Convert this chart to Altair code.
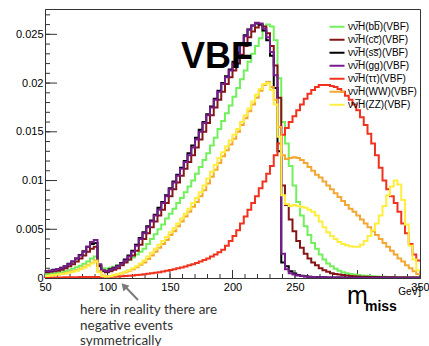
import altair as alt
import pandas as pd

# bin edges: 100 bins of 3 GeV from 50 to 350
edges = [50 + 3 * i for i in range(100)]

labels = ["νν̅H(bb̅)(VBF)", "νν̅H(cc̅)(VBF)", "νν̅H(ss̅)(VBF)", "νν̅H(gg)(VBF)",
          "νν̅H(ττ)(VBF)", "νν̅H(WW)(VBF)", "νν̅H(ZZ)(VBF)"]
colors = ["#72f05c", "#861616", "#000000", "#771c8c", "#f0321e", "#f4a834", "#ffee40"]

# values in units of 1e-3
bb = [0.4,0.45,0.5,0.55,0.6,0.7,0.8,0.95,1.1,1.25,1.45,1.7,2.0,2.2,
      1.3,1.0,0.95,1.05,1.15,1.3,1.45,1.65,1.85,2.1,2.4,2.7,
      3.0,3.5,4.0,4.5,5.0,5.5,6.1,6.6,7.1,7.7,8.2,8.8,9.4,10.0,10.7,11.4,12.1,12.8,13.6,14.4,
      15.3,16.1,16.9,17.7,18.6,19.5,20.4,21.3,22.2,23.0,23.8,24.6,25.4,26.0,
      25.8,24.4,20.5,16.0,13.8,11.5,9.5,7.8,6.4,5.3,4.4,3.6,3.0,2.4,1.9,1.5,1.2,0.95,0.75,0.6,
      0.5,0.4,0.35,0.3,0.25,0.22,0.2,0.18,0.15,0.13,0.12,0.1,0.1,0.09,0.08,0.07,0.06,0.06,0.05,0.05]
cc = [0.6,0.65,0.7,0.75,0.85,1.0,1.2,1.4,1.7,2.0,2.3,2.7,3.0,3.2,
      1.2,0.7,0.6,0.7,0.85,1.0,1.3,1.6,1.9,2.3,2.8,3.4,
      4.0,4.6,5.2,5.8,6.4,7.0,7.7,8.4,9.1,9.8,10.5,11.2,11.9,12.6,13.4,14.2,15.0,15.9,16.7,17.5,
      18.3,19.1,19.9,20.6,21.3,22.0,22.9,23.8,24.7,25.3,25.7,26.0,25.8,25.1,
      23.8,21.8,18.5,9.5,7.5,6.0,4.8,3.8,3.1,2.5,2.0,1.6,1.3,1.0,0.8,0.65,0.5,0.4,0.35,0.3,
      0.25,0.2,0.18,0.16,0.14,0.12,0.11,0.1,0.09,0.08,0.08,0.07,0.07,0.06,0.06,0.05,0.05,0.05,0.04,0.04]
ss = [0.7,0.75,0.85,0.9,1.05,1.2,1.45,1.7,2.0,2.35,2.75,3.2,3.5,3.6,
      1.3,0.75,0.7,0.9,1.05,1.25,1.55,1.9,2.3,2.8,3.4,4.1,
      4.7,5.3,5.9,6.5,7.2,7.8,8.5,9.2,9.9,10.6,11.3,12.0,12.8,13.6,14.4,15.2,16.0,16.8,17.6,18.4,
      19.2,20.0,20.7,21.4,22.2,23.1,24.0,24.9,25.5,25.9,26.1,26.0,25.4,24.4,
      22.8,19.5,13.0,1.6,1.2,0.7,0.45,0.3,0.22,0.17,0.13,0.1,0.09,0.08,0.07,0.06,0.05,0.05,0.04,0.04,
      0.03,0.03,0.03,0.03,0.03,0.02,0.02,0.02,0.02,0.02,0.02,0.02,0.02,0.02,0.02,0.02,0.02,0.02,0.02,0.02]
gg = [0.7,0.75,0.8,0.9,1.0,1.2,1.4,1.7,2.0,2.3,2.7,3.2,3.7,3.9,
      1.4,0.8,0.7,0.85,1.0,1.2,1.5,1.8,2.2,2.7,3.3,4.0,
      4.6,5.2,5.8,6.4,7.0,7.7,8.4,9.1,9.8,10.5,11.2,11.9,12.6,13.4,14.2,15.0,15.9,16.7,17.5,18.3,
      19.1,19.9,20.6,21.3,22.0,22.9,23.9,24.8,25.5,25.9,26.2,26.1,25.6,24.7,
      23.2,20.8,15.5,2.5,0.9,0.5,0.35,0.25,0.2,0.15,0.12,0.1,0.08,0.07,0.06,0.05,0.05,0.04,0.04,0.03,
      0.03,0.03,0.03,0.02,0.02,0.02,0.02,0.02,0.02,0.02,0.02,0.02,0.02,0.02,0.02,0.02,0.02,0.02,0.02,0.02]
tautau = [0.05,0.05,0.05,0.06,0.06,0.07,0.07,0.08,0.08,0.09,0.09,0.1,0.1,0.11,0.11,0.12,0.12,0.13,0.14,0.16,
          0.18,0.2,0.23,0.26,0.3,0.34,0.38,0.43,0.48,0.54,0.6,0.67,0.74,0.82,0.9,0.99,1.08,1.18,1.3,1.42,
          1.55,1.7,1.85,2.0,2.2,2.4,2.65,2.9,3.3,3.8,4.3,4.9,5.6,6.3,7.0,7.7,8.4,9.2,9.9,10.7,
          11.5,12.6,13.8,14.7,15.4,16.0,16.6,17.2,17.8,18.4,18.9,19.3,19.6,19.8,19.8,19.8,19.7,19.6,19.4,19.1,
          18.7,18.3,17.8,17.2,16.5,15.7,14.8,13.8,12.6,11.3,10.0,9.1,8.4,7.7,6.8,5.6,4.6,3.5,2.4,1.8]
ww = [0.2,0.25,0.3,0.35,0.4,0.5,0.6,0.7,0.8,0.95,1.1,1.3,1.55,1.8,
      0.7,0.25,0.15,0.2,0.25,0.35,0.45,0.6,0.75,0.9,1.1,1.35,
      1.6,1.95,2.3,2.7,3.1,3.5,3.9,4.4,4.8,5.3,
      5.8,6.3,6.8,7.3,7.8,8.4,9.0,9.7,10.4,11.1,11.8,12.5,13.1,13.7,14.3,15.0,15.7,16.4,17.1,17.8,18.5,19.2,19.8,20.1,
      19.6,18.3,15.5,12.6,12.2,12.3,12.4,12.3,12.1,11.8,
      11.4,11.0,10.6,10.3,9.9,9.5,9.1,8.7,8.3,7.9,
      7.5,7.1,6.8,6.4,6.0,5.6,5.2,4.8,4.4,4.0,
      3.6,3.2,2.8,2.4,2.0,1.7,1.3,1.0,0.7,0.4]
zz = [0.2,0.25,0.3,0.35,0.4,0.45,0.55,0.65,0.75,0.9,1.05,1.25,1.5,1.7,
      0.6,0.2,0.15,0.2,0.3,0.4,0.5,0.65,0.8,1.0,1.2,1.5,
      1.8,2.2,2.6,3.0,3.4,3.8,4.2,4.7,5.1,5.6,
      6.1,6.6,7.1,7.7,8.2,8.8,9.5,10.2,10.9,11.6,12.3,12.9,13.5,14.1,14.7,15.3,16.0,16.7,17.4,18.1,18.8,19.4,19.9,20.0,
      19.3,17.8,14.5,8.5,7.6,7.4,7.5,7.4,7.3,7.2,
      7.0,6.8,6.4,5.8,5.2,4.7,4.3,4.0,3.7,3.5,
      3.35,3.25,3.2,3.2,3.4,3.8,4.3,4.9,5.6,6.4,
      7.4,8.5,9.4,10.0,9.6,8.0,5.5,3.3,1.9,0.8]

series = [bb, cc, ss, gg, tautau, ww, zz]
for s in series:
    assert len(s) == 100, len(s)

rows = []
for lab, vals in zip(labels, series):
    for e, v in zip(edges, vals):
        rows.append({"series": lab, "m": e, "v": v / 1000.0})
    rows.append({"series": lab, "m": 350, "v": vals[-1] / 1000.0})
df = pd.DataFrame(rows)

x_labels = [50, 100, 150, 200, 250, 350]
y_labels = [0, 0.005, 0.01, 0.015, 0.02, 0.025]
x_minor = list(range(50, 351, 10))
x_major = list(range(50, 351, 50))
y_minor = [i / 1000 for i in range(28)]
y_major = [i / 1000 for i in range(0, 28, 5)]

FONT = "Liberation Sans"
xs = alt.Scale(domain=[50, 350], nice=False, zero=False)
ys = alt.Scale(domain=[0, 0.0276], nice=False)

lines = alt.Chart(df).mark_line(interpolate="step-after", strokeWidth=2, clip=True).encode(
    x=alt.X("m:Q", scale=xs, axis=alt.Axis(values=x_labels, ticks=False, grid=False, title=None,
                                           labelFont=FONT, labelFontSize=11, labelColor="black",
                                           labelPadding=3, domainColor="#333", labelFlush=False,
                                           labelOverlap=False)),
    y=alt.Y("v:Q", scale=ys, axis=alt.Axis(values=y_labels, format="~g", ticks=False, grid=False,
                                           title=None, labelFont=FONT, labelFontSize=11,
                                           labelColor="black", labelPadding=2, domainColor="#333",
                                           labelOverlap=False)),
    color=alt.Color("series:N", sort=labels, scale=alt.Scale(domain=labels, range=colors),
                    legend=alt.Legend(orient="none", legendX=285, legendY=10.75, title=None,
                                      labelFont=FONT, labelFontSize=10, labelColor="black",
                                      symbolType="M-1.25,0H1.25", symbolSize=144,
                                      symbolStrokeWidth=2, rowPadding=1.0, padding=0,
                                      labelOffset=4)),
)

def yticks(vals, length):
    return alt.Chart(pd.DataFrame({"t": vals})).mark_rule(color="#333", strokeWidth=1).encode(
        y=alt.Y("t:Q", scale=ys), x=alt.value(0), x2=alt.value(length))

def xticks(vals, length):
    return alt.Chart(pd.DataFrame({"t": vals})).mark_rule(color="#333", strokeWidth=1).encode(
        x=alt.X("t:Q", scale=xs), y=alt.value(269), y2=alt.value(269 - length))

one = pd.DataFrame({"a": [0]})

def txt(s, x, y, size, weight="normal", align="left", font=FONT, color="black"):
    return alt.Chart(one).mark_text(text=s, fontSize=size, fontWeight=weight, align=align,
                                    baseline="alphabetic", font=font, color=color).encode(
        x=alt.value(x), y=alt.value(y))

arrow = alt.Chart(one).mark_rule(color="#7a7a7a", strokeWidth=2).encode(
    x=alt.value(93), y=alt.value(291), x2=alt.value(80), y2=alt.value(277.5))
head = alt.Chart(one).mark_point(shape="triangle-up", filled=True, size=70, angle=317,
                                 color="#7a7a7a", opacity=1).encode(
    x=alt.value(79), y=alt.value(277))

NOTE_FONT = "Lato"
chart = alt.layer(
    yticks(y_minor, 5), yticks(y_major, 12), xticks(x_minor, 4), xticks(x_major, 8),
    lines,
    txt("VBF", 172, 59, 36, "bold", "center"),
    txt("m", 302, 295, 25),
    txt("miss", 320, 302, 14, "bold"),
    txt("GeV]", 376, 286, 10, align="right"),
    txt("here in reality there are", 35, 305, 13.5, font=NOTE_FONT, color="#333333"),
    txt("negative events", 35, 320.5, 13.5, font=NOTE_FONT, color="#333333"),
    txt("symmetrically", 35, 336, 13.5, font=NOTE_FONT, color="#333333"),
    arrow, head,
).properties(
    width=375, height=269,
    autosize=alt.AutoSizeParams(type="none"),
    padding={"left": 45, "top": 9, "right": 9, "bottom": 68},
    background="white",
).configure_view(stroke="#333", strokeWidth=1)

chart.save("out.html", embed_options={"renderer": "svg", "actions": False})
